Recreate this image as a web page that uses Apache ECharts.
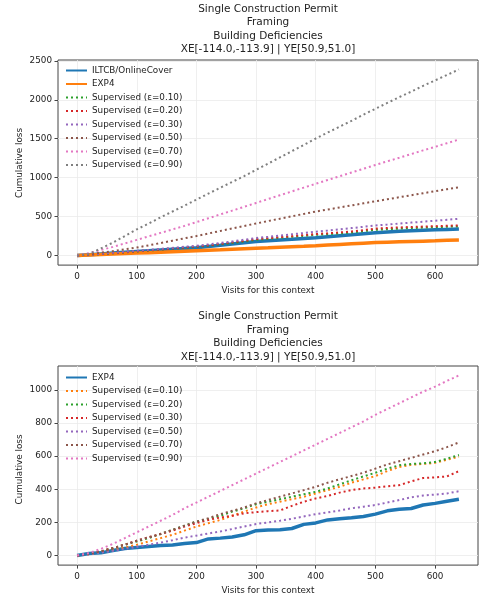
<!DOCTYPE html>
<html><head><meta charset="utf-8">
<script src="https://cdn.jsdelivr.net/npm/echarts@6/dist/echarts.min.js"></script>
<style>html,body{margin:0;padding:0;background:#fff}#c1,#c2{width:488px;height:300px}</style>
</head><body><div id="c1"></div><div id="c2"></div>
<script>
const visits = [0,20,40,60,80,100,120,140,160,180,200,220,240,260,280,300,320,340,360,380,400,420,440,460,480,500,520,540,560,580,600,620,640];
const xTicks = [0,100,200,300,400,500,600];
const titleLines = ['Single Construction Permit','Framing','Building Deficiencies','XE[-114.0,-113.9] | YE[50.9,51.0]'];

// Top chart
const topNames = ['ILTCB/OnlineCover','EXP4','Supervised (ε=0.10)','Supervised (ε=0.20)','Supervised (ε=0.30)','Supervised (ε=0.50)','Supervised (ε=0.70)','Supervised (ε=0.90)'];
const topIltcb = [0,10,20,30,40,50,60,70,80,90,100,115,130,146,162,178,190,199,208,218,229,241,253,265,280,293,302,310,317,323,329,335,340];
const topExp4 = [0,6,12,18,24,30,36,42,48,54,60,66,72,79,86,92,98,105,112,118,125,133,141,149,157,165,170,175,180,184,188,194,199];
const topSup10 = [0,9,18,28,40,52,63,75,87,99,110,125,142,160,180,200,213,226,239,252,265,273,283,295,312,330,338,345,352,358,363,369,374];
const topSup20 = [0,10,20,30,42,55,66,78,90,103,115,130,148,168,188,210,222,235,248,262,275,285,296,308,325,345,353,360,366,371,376,381,386];
const topSup30 = [0,11,22,34,47,60,72,85,98,112,125,142,160,180,202,225,240,256,272,288,305,320,336,352,368,385,397,410,422,434,446,459,471];
const topSup50 = [0,15,35,55,80,102,130,160,190,220,250,282,315,347,379,411,442,473,503,534,564,590,617,643,670,696,722,748,774,800,826,852,875];
const topSup70 = [0,30,70,110,155,200,245,290,335,380,428,478,527,576,625,675,725,774,823,872,921,970,1018,1066,1114,1163,1210,1256,1303,1350,1396,1443,1490];
const topSup90 = [0,20,90,165,250,335,410,490,565,640,717,795,870,945,1020,1100,1180,1260,1340,1420,1503,1580,1655,1730,1810,1885,1960,2035,2105,2180,2250,2320,2390];
const topYTicks = [0,500,1000,1500,2000,2500];

// Bottom chart
const botNames = ['EXP4','Supervised (ε=0.10)','Supervised (ε=0.20)','Supervised (ε=0.30)','Supervised (ε=0.50)','Supervised (ε=0.70)','Supervised (ε=0.90)'];
const botExp4 = [0,12,16,30,42,48,54,60,64,72,78,100,105,112,125,150,154,156,163,188,197,215,222,228,236,250,270,280,284,305,315,328,340];
const botSup10 = [0,8,18,32,48,65,85,105,125,150,175,195,215,240,265,290,310,325,340,355,375,395,415,440,460,480,510,535,548,553,560,578,597];
const botSup20 = [0,10,25,45,65,85,105,130,155,180,205,220,240,265,285,310,325,340,355,370,385,405,430,455,478,500,525,545,553,557,565,585,607];
const botSup30 = [0,10,25,45,65,90,110,130,150,175,195,215,230,240,255,262,268,272,300,325,345,360,380,395,405,410,418,425,448,468,472,478,510];
const botSup50 = [0,8,18,28,40,52,65,78,92,108,120,133,145,160,175,190,200,210,222,236,250,260,272,285,295,305,320,335,352,362,368,375,388];
const botSup70 = [0,10,25,45,65,90,110,130,155,180,205,225,250,270,290,315,335,355,375,395,415,440,460,480,500,525,550,570,590,610,630,655,683];
const botSup90 = [0,15,40,70,105,140,175,210,245,285,320,355,390,425,460,495,530,565,600,635,670,705,740,775,810,850,885,920,955,990,1020,1055,1088];
const botYTicks = [0,200,400,600,800,1000];

const C = {blue:'#1f77b4',orange:'#ff7f0e',green:'#2ca02c',red:'#d62728',purple:'#9467bd',brown:'#8c564b',pink:'#e377c2',gray:'#7f7f7f'};
const FONT = 'DejaVu Sans';

function build(el, cfg){
  const chart = echarts.init(document.getElementById(el), null, {renderer:'canvas'});
  const graphic = titleLines.map((t,i)=>({type:'text', x:268, y:cfg.titleTop + i*13.5,
    style:{text:t, fill:'#222', font:'10.5px "DejaVu Sans"', textAlign:'center', textVerticalAlign:'middle'}}));
  graphic.push({type:'text', x:20, y:cfg.gridTop + cfg.gridH/2, rotation:Math.PI/2,
    style:{text:'Cumulative loss', fill:'#222', font:'8.8px "DejaVu Sans"', textAlign:'center', textVerticalAlign:'middle'}});
  const series = cfg.series.map(s=>({
    name:s.name, type:'line', data:visits.map((v,i)=>[v,s.data[i]]), symbol:'none', showSymbol:false,
    animation:false, silent:true,
    lineStyle: s.solid ? {color:s.color, width:3.5, type:'solid', cap:'butt'} : {color:s.color, width:2, type:[2,3], cap:'butt'},
    itemStyle:{color:s.color}
  }));
  const numFmt = v => String(v);
  chart.setOption({
    animation:false,
    graphic: graphic,
    grid:{left:58, right:10, top:cfg.gridTop, height:cfg.gridH, show:true, borderColor:'#444', borderWidth:1, containLabel:false},
    legend:{orient:'vertical', left:65, top:cfg.legendTop, padding:0, itemWidth:21, itemHeight:10, itemGap:4.5,
      data:cfg.series.map(s=>s.name), selectedMode:false, itemStyle:{opacity:0},
      textStyle:{fontFamily:FONT, fontSize:8.8, color:'#222', padding:[0,0,0,0]}},
    xAxis:{type:'value', min:-32, max:672, name:'Visits for this context', nameLocation:'middle', nameGap:16,
      nameTextStyle:{fontFamily:FONT, fontSize:8.8, color:'#222'},
      axisLine:{show:false, onZero:false}, axisTick:{show:true, length:3.5, inside:false, lineStyle:{color:'#444'}, customValues:xTicks},
      axisLabel:{fontFamily:FONT, fontSize:8.8, color:'#222', margin:7, customValues:xTicks, formatter:numFmt},
      splitLine:{show:true, lineStyle:{color:'#ebebeb', width:0.8}}},
    yAxis:{type:'value', min:cfg.yMin, max:cfg.yMax,
      axisLine:{show:false, onZero:false}, axisTick:{show:true, length:3.5, lineStyle:{color:'#444'}, customValues:cfg.yTicks},
      axisLabel:{fontFamily:FONT, fontSize:8.8, color:'#222', margin:6, customValues:cfg.yTicks, formatter:numFmt},
      splitLine:{show:true, lineStyle:{color:'#ebebeb', width:0.8}}},
    series: series
  });
  return chart;
}

build('c1', {titleTop:9, gridTop:60, gridH:206, legendTop:66, yMin:-124, yMax:2512, yTicks:topYTicks,
  series:[
    {name:topNames[0], data:topIltcb, color:C.blue, solid:true},
    {name:topNames[1], data:topExp4, color:C.orange, solid:true},
    {name:topNames[2], data:topSup10, color:C.green},
    {name:topNames[3], data:topSup20, color:C.red},
    {name:topNames[4], data:topSup30, color:C.purple},
    {name:topNames[5], data:topSup50, color:C.brown},
    {name:topNames[6], data:topSup70, color:C.pink},
    {name:topNames[7], data:topSup90, color:C.gray}
  ]});
build('c2', {titleTop:16.5, gridTop:66, gridH:207, legendTop:73, yMin:-58, yMax:1145, yTicks:botYTicks,
  series:[
    {name:botNames[0], data:botExp4, color:C.blue, solid:true},
    {name:botNames[1], data:botSup10, color:C.orange},
    {name:botNames[2], data:botSup20, color:C.green},
    {name:botNames[3], data:botSup30, color:C.red},
    {name:botNames[4], data:botSup50, color:C.purple},
    {name:botNames[5], data:botSup70, color:C.brown},
    {name:botNames[6], data:botSup90, color:C.pink}
  ]});
</script></body></html>
